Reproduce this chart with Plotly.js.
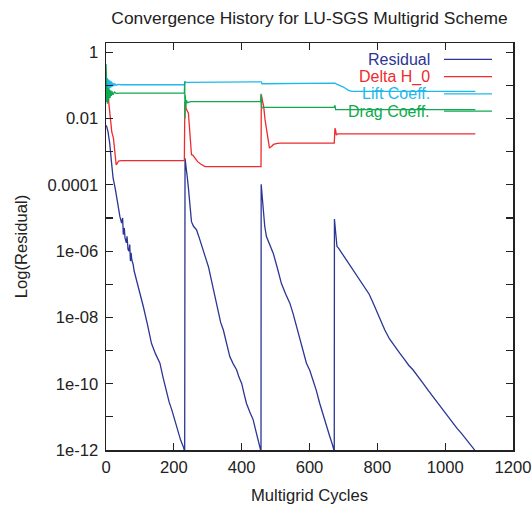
<!DOCTYPE html>
<html>
<head>
<meta charset="utf-8">
<script src="https://cdn.plot.ly/plotly-3.0.1.min.js"></script>
<style>html,body{margin:0;padding:0;background:#fff;}#chart{width:532px;height:506px;}</style>
</head>
<body>
<div id="chart"></div>
<script>
// ---- data (x = multigrid cycle, values read as log10 of the plotted quantity) ----
const seriesNames = ["Residual", "Delta H_0", "Lift Coeff.", "Drag Coeff."];
const seriesColors = ["#2b3594", "#ee2b2e", "#1fb8ec", "#10a94f"];

const residualX = [0,2,6,11,16,21,27,30,33,36,41,46,49,51,54,56,60,62,65,68,70,72,74,76,80,83,90,100,110,122,134,146,159,168,179,186,194,204,213,220,228,232,
  233,236,240,243,247,252,258,267,275,282,292,302,309,316,323,331,338,346,356,365,375,385,392,400,407,414,424,434,440,444,450,457,
  457.5,460,463,468,473,483,493,505,517,530,542,552,562,569,576,584,591,601,611,620,630,640,650,660,668,673,
  673.5,676,678,681,685,699,714,729,746,763,776,788,805,822,836,851,866,881,893,905,920,935,950,964,979,994,1008,1023,1035,1048,1060,1072,1080,1087,1092];
const residualLog = [-2.2,-2.24,-2.4,-2.75,-3.3,-3.8,-4.1,-4.3,-4.5,-4.6,-4.96,-5.15,-5.0,-5.5,-5.3,-5.6,-5.75,-5.55,-5.95,-6.0,-5.8,-6.3,-6.05,-6.26,-6.4,-6.6,-6.87,-7.25,-7.67,-8.2,-8.78,-9.1,-9.38,-9.8,-10.29,-10.55,-10.79,-11.15,-11.5,-11.7,-11.9,-12.05,
  -3.2,-3.4,-3.8,-4.1,-4.6,-5.11,-5.25,-5.36,-5.6,-5.86,-6.15,-6.47,-6.8,-7.07,-7.5,-7.87,-8.15,-8.38,-8.8,-9.18,-9.4,-9.58,-9.8,-9.99,-10.3,-10.59,-10.85,-11.09,-11.35,-11.5,-11.75,-12.05,
  -3.98,-4.3,-4.86,-5.25,-5.56,-5.8,-6.06,-6.5,-6.97,-7.3,-7.57,-7.9,-8.28,-8.6,-8.88,-9.15,-9.38,-9.6,-9.89,-10.2,-10.59,-10.95,-11.3,-11.6,-11.85,-12.05,
  -5.03,-5.3,-5.46,-5.86,-5.9,-6.11,-6.35,-6.57,-6.82,-7.07,-7.3,-7.57,-7.97,-8.38,-8.65,-8.88,-9.08,-9.28,-9.45,-9.58,-9.8,-9.99,-10.2,-10.39,-10.6,-10.79,-11.0,-11.19,-11.35,-11.5,-11.65,-11.8,-11.9,-12.0,-12.1];

const deltaX = [0,3,6,10,17,22,26,30,33,37,45,231,232.5,236,243,248,252,256,262,270,280,292,457,458,462,465,469,475,482,488,494,505,515,673,675,677,679,683,700,1089];
const deltaLog = [-1.1,-1.15,-1.3,-1.7,-2.4,-2.6,-3.1,-3.4,-3.35,-3.28,-3.27,-3.27,-1.5,-1.7,-1.84,-2.54,-3.09,-3.1,-3.2,-3.3,-3.38,-3.45,-3.45,-1.28,-1.5,-1.64,-2.04,-2.44,-2.89,-2.84,-2.78,-2.75,-2.74,-2.74,-2.29,-2.35,-2.5,-2.46,-2.46,-2.46];

const liftX = [0,2,4,6,8,10,12,14,16,18,20,23,26,30,35,45,232,233,235,457,458,460,673,675,680,700,715,725,1089];
const liftLog = [-0.75,-1.15,-0.78,-1.12,-0.82,-1.1,-0.85,-1.07,-0.88,-1.04,-0.92,-1.02,-0.95,-1.0,-0.97,-0.98,-0.98,-0.88,-0.91,-0.91,-0.89,-0.95,-0.95,-0.93,-0.96,-1.05,-1.15,-1.18,-1.18];

const dragX = [0,1,2,3,4,6,8,10,12,14,16,18,21,25,30,40,231,232,233,234,235,237,240,250,456,457,459,462,673,675,677,1089];
const dragLog = [-0.35,-0.6,-1.5,-1.0,-1.55,-1.08,-1.45,-1.12,-1.38,-1.15,-1.32,-1.18,-1.28,-1.2,-1.24,-1.23,-1.23,-0.88,-2.0,-1.3,-1.7,-1.45,-1.52,-1.49,-1.49,-1.25,-1.69,-1.66,-1.66,-1.6,-1.73,-1.73];

const xTickVals = [0,200,400,600,800,1000,1200];
const yTickVals = [1,1e-1,1e-2,1e-3,1e-4,1e-5,1e-6,1e-7,1e-8,1e-9,1e-10,1e-11,1e-12];
const yTickText = ["1","","0.01","","0.0001","","1e-06","","1e-08","","1e-10","","1e-12"];

const xs = [residualX, deltaX, liftX, dragX];
const ls = [residualLog, deltaLog, liftLog, dragLog];

// ---- chart ----
const FONT = "Liberation Sans, Arial, Helvetica, sans-serif";
const FS = 16.6;
const traces = xs.map((x, i) => ({
  x: x,
  y: ls[i].map(v => Math.pow(10, v)),
  type: "scatter",
  mode: "lines",
  name: seriesNames[i],
  line: {color: seriesColors[i], width: 1.3},
  hoverinfo: "skip"
}));
const W = 407, L = 106, T = 43;
const px2x = p => (p - L) / W;
const py2y = p => (T + W - p) / W;
const legendRowsY = [59.3, 76.6, 93.9, 111.2];
const annotations = seriesNames.map((n, i) => ({
  text: n, xref: "paper", yref: "paper", x: px2x(432), y: py2y(legendRowsY[i]),
  xanchor: "right", yanchor: "middle", showarrow: false,
  font: {family: FONT, size: 16, color: seriesColors[i]}
}));
const shapes = seriesNames.map((n, i) => ({
  type: "line", xref: "paper", yref: "paper",
  x0: px2x(444), x1: px2x(492), y0: py2y(legendRowsY[i]), y1: py2y(legendRowsY[i]),
  line: {color: seriesColors[i], width: 1.3}
}));

const layout = {
  width: 532, height: 506,
  margin: {l: 106, r: 19, t: 43, b: 56},
  paper_bgcolor: "#fff", plot_bgcolor: "#fff",
  showlegend: false,
  font: {family: FONT, size: FS, color: "#222"},
  title: {text: "Convergence History for LU-SGS Multigrid Scheme", font: {family: FONT, size: 17.4, color: "#222"},
          x: 309.5/532, xanchor: "center", xref: "container", y: 1 - 18/506, yanchor: "middle", yref: "container"},
  xaxis: {
    range: [0, 1200], tickvals: xTickVals, ticks: "inside", ticklen: 7, tickwidth: 1.2, tickcolor: "#222",
    showline: true, linecolor: "#222", linewidth: 1.5, mirror: "allticks", showgrid: false, zeroline: false,
    ticklabelstandoff: 2,
    tickfont: {family: FONT, size: FS, color: "#222"},
    title: {text: "Multigrid Cycles", font: {family: FONT, size: FS, color: "#222"}, standoff: 13}
  },
  yaxis: {
    type: "log", range: [-12, 0.28], tickvals: yTickVals, ticktext: yTickText, ticks: "inside", ticklen: 7, tickwidth: 1.2, tickcolor: "#222",
    showline: true, linecolor: "#222", linewidth: 1.5, mirror: "allticks", showgrid: false, zeroline: false,
    ticklabelstandoff: 3,
    tickfont: {family: FONT, size: FS, color: "#222"},
    title: {text: "Log(Residual)", font: {family: FONT, size: FS, color: "#222"}, standoff: 15}
  },
  annotations: annotations,
  shapes: shapes
};
Plotly.newPlot("chart", traces, layout, {displayModeBar: false, staticPlot: true});
</script>
</body>
</html>
